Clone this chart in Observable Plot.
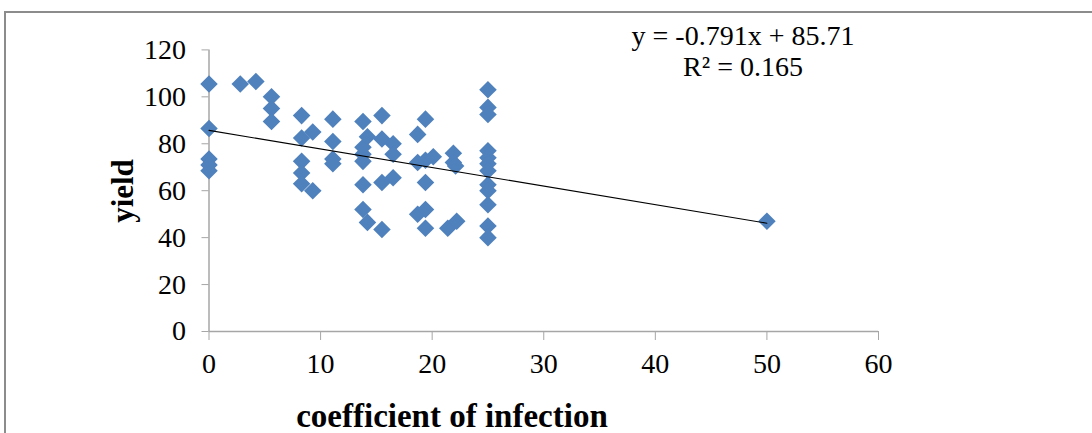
<!DOCTYPE html>
<html><head><meta charset="utf-8">
<script src="https://cdn.jsdelivr.net/npm/d3@7"></script>
<script src="https://cdn.jsdelivr.net/npm/@observablehq/plot@0.6"></script>
<style>
html,body{margin:0;padding:0;background:#fff;}
body{width:1092px;height:433px;overflow:hidden;position:relative;font-family:"Liberation Serif","Times New Roman",serif;color:#000;}
#frame{position:absolute;left:4px;top:11px;width:1200px;height:600px;border-top:2px solid #8c8c8c;border-left:2px solid #8c8c8c;}
#chart{position:absolute;left:0;top:0;}
#eq{position:absolute;left:593px;top:20px;width:300px;text-align:center;font-size:28px;line-height:31px;white-space:nowrap;}
#ylab{position:absolute;left:122px;top:191px;transform:translate(-50%,-50%) rotate(-90deg);font-weight:bold;font-size:31px;line-height:1;white-space:nowrap;}
#xlab{position:absolute;left:452px;top:400px;transform:translateX(-50%);font-weight:bold;font-size:33px;line-height:1;white-space:nowrap;}
</style>
</head><body>
<div id="frame"></div>
<div id="chart"></div>
<div id="eq"></div>
<div id="ylab"></div>
<div id="xlab"></div>
<script>
// Data
const infection = [
  0, 0, 0, 0, 0,
  2.8, 4.2,
  5.6, 5.6, 5.6,
  8.3, 8.3, 8.3, 8.3, 8.3,
  9.3, 9.3,
  11.1, 11.1, 11.1, 11.1,
  13.8, 13.8, 13.8, 13.8, 13.8, 13.8,
  14.2, 14.2,
  15.5, 15.5, 15.5, 15.5,
  16.5, 16.5, 16.5,
  18.7, 18.7, 18.7,
  19.4, 19.4, 19.4, 19.4, 19.4,
  20.1, 21.4,
  21.9, 21.9, 22.1, 22.2,
  25, 25, 25, 25, 25, 25, 25, 25, 25, 25, 25, 25,
  50
];
const yieldValues = [
  105.5, 86.5, 73.5, 71, 68.5,
  105.5, 106.5,
  100, 95, 89.5,
  92, 82.5, 72.5, 67.5, 63,
  85, 60,
  90.5, 81, 73.5, 71.5,
  89.5, 78.5, 75.5, 72.5, 62.5, 52,
  83, 46.5,
  92, 82, 63.5, 43.5,
  80, 75.5, 65.5,
  84, 72, 50,
  90.5, 73, 63.5, 52, 44,
  74.5, 44,
  76, 72, 70.5, 47,
  103, 95.5, 92.5, 77, 74, 71.5, 68.5, 62.5, 60, 54, 45, 40,
  47
];
const xTicks = [0, 10, 20, 30, 40, 50, 60];
const yTicks = [0, 20, 40, 60, 80, 100, 120];
const trendSlope = -0.791;
const trendIntercept = 85.71;
const trendRange = [0, 50];
const equationText = "y = -0.791x + 85.71";
const r2Text = "R² = 0.165";
const xTitle = "coefficient of infection";
const yTitle = "yield";

const points = infection.map((x, i) => ({x, y: yieldValues[i]}));
const trend = trendRange.map(x => ({x, y: trendIntercept + trendSlope * x}));

const axisGray = "#a6a6a6";
const chart = Plot.plot({
  width: 1092, height: 433,
  marginLeft: 208.5, marginRight: 214, marginTop: 49.4, marginBottom: 102,
  style: {fontFamily: '"Liberation Serif","Times New Roman",serif', fontSize: "28px", color: "#000", background: "transparent", overflow: "visible"},
  x: {domain: [0, 60], ticks: xTicks},
  y: {domain: [0, 120], ticks: yTicks},
  marks: [
    Plot.ruleY([0], {stroke: axisGray, strokeWidth: 1.5}),
    Plot.ruleX([0], {stroke: axisGray, strokeWidth: 1.5}),
    Plot.axisX({ticks: xTicks, tickSize: 9, tickPadding: 13, stroke: axisGray, fill: "#000", fontSize: 28, label: null}),
    Plot.axisY({ticks: yTicks, tickSize: 7, tickPadding: 16, stroke: axisGray, fill: "#000", fontSize: 28, label: null}),
    Plot.dot(points, {x: "x", y: "y", symbol: "diamond2", r: 7.9, fill: "#4f81bd", stroke: null}),
    Plot.line(trend, {x: "x", y: "y", stroke: "#000", strokeWidth: 1.1})
  ]
});
document.getElementById("chart").appendChild(chart);
document.getElementById("eq").innerHTML = equationText + "<br>" + r2Text;
document.getElementById("ylab").textContent = yTitle;
document.getElementById("xlab").textContent = xTitle;
</script>
</body></html>
